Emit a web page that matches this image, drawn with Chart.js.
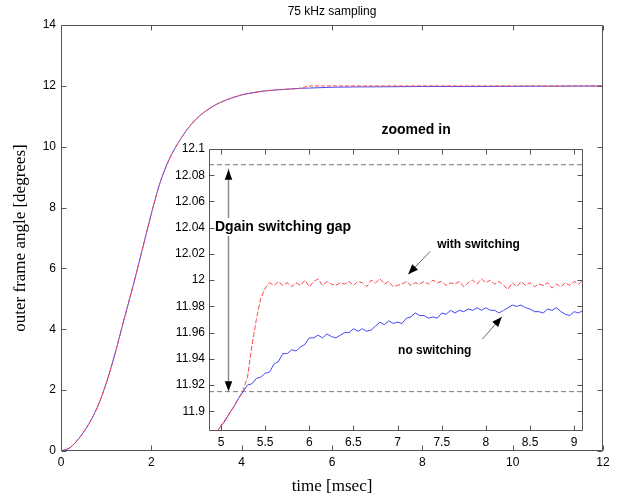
<!DOCTYPE html>
<html>
<head>
<meta charset="utf-8">
<script src="https://cdn.jsdelivr.net/npm/chart.js@4.4.0/dist/chart.umd.min.js"></script>
<style>
  html, body { margin: 0; padding: 0; background: #fff; }
  #wrap { position: relative; width: 618px; height: 499px; }
  #mainChart { position: absolute; left: 0; top: 0; }
  #zoomChart { position: absolute; left: 150px; top: 110px; }
</style>
</head>
<body>
<div id="wrap">
  <canvas id="mainChart" width="618" height="499"></canvas>
  <canvas id="zoomChart" width="450" height="350"></canvas>
</div>
<script>
// main plot data (msec, degrees)
const mainTime = [0, 0.2, 0.4, 0.6, 0.8, 1.0, 1.2, 1.4, 1.6, 1.8, 2.0, 2.1, 2.2, 2.3, 2.4, 2.6, 2.8, 3.0, 3.3, 3.6, 4.0, 4.5, 5.0, 5.3, 5.5, 6, 7, 8, 9, 10, 11, 12];
const mainRed = [0, 0.11, 0.42, 0.85, 1.42, 2.22, 3.22, 4.35, 5.45, 6.62, 7.8, 8.35, 8.85, 9.25, 9.6, 10.14, 10.58, 10.92, 11.27, 11.5, 11.7, 11.83, 11.89, 11.92, 11.995, 11.997, 11.997, 11.998, 11.998, 11.998, 11.999, 12.0];
const mainBlue = [0, 0.11, 0.42, 0.85, 1.42, 2.22, 3.22, 4.35, 5.45, 6.62, 7.8, 8.35, 8.85, 9.25, 9.6, 10.14, 10.58, 10.92, 11.27, 11.5, 11.7, 11.83, 11.89, 11.92, 11.928, 11.955, 11.968, 11.978, 11.976, 11.985, 11.99, 11.995];
const mainXTicks = [0, 2, 4, 6, 8, 10, 12];
const mainYTicks = [0, 2, 4, 6, 8, 10, 12, 14];

// zoomed in data
const zoomTime = [4.90, 4.95, 5.00, 5.05, 5.10, 5.15, 5.20, 5.25, 5.30, 5.35, 5.40, 5.45, 5.50, 5.55, 5.60, 5.65, 5.70, 5.75, 5.80, 5.85,
  5.90, 5.95, 6.00, 6.05, 6.10, 6.15, 6.20, 6.25, 6.30, 6.35, 6.40, 6.45, 6.50, 6.55, 6.60, 6.65, 6.70, 6.75, 6.80, 6.85,
  6.90, 6.95, 7.00, 7.05, 7.10, 7.15, 7.20, 7.25, 7.30, 7.35, 7.40, 7.45, 7.50, 7.55, 7.60, 7.65, 7.70, 7.75, 7.80, 7.85,
  7.90, 7.95, 8.00, 8.05, 8.10, 8.15, 8.20, 8.25, 8.30, 8.35, 8.40, 8.45, 8.50, 8.55, 8.60, 8.65, 8.70, 8.75, 8.80, 8.85,
  8.90, 8.95, 9.00, 9.05, 9.10];
const zoomRed = [11.879, 11.884, 11.889, 11.894, 11.899, 11.904, 11.910, 11.916, 11.926, 11.950, 11.970, 11.986, 11.994, 11.998, 11.996, 11.999, 11.996, 11.998, 11.995, 11.998,
  11.996, 12.000, 11.995, 11.999, 12.001, 11.996, 11.999, 11.997, 11.996, 11.998, 11.997, 11.999, 11.996, 11.999, 11.998, 11.995, 12.000, 11.998, 12.001, 11.997,
  11.999, 11.995, 11.996, 11.997, 11.999, 11.996, 11.998, 11.997, 11.999, 11.997, 12.000, 11.998, 11.999, 11.996, 11.998, 11.997, 11.999, 11.995, 11.998, 12.000,
  11.997, 12.001, 11.998, 12.000, 11.997, 11.999, 11.996, 11.993, 11.998, 11.995, 11.999, 11.996, 11.998, 11.995, 11.997, 11.996, 11.998, 11.994, 11.997, 11.995,
  11.998, 11.996, 11.999, 11.997, 12.000];
const zoomBlue = [11.879, 11.884, 11.889, 11.893, 11.899, 11.904, 11.910, 11.915, 11.920, 11.921, 11.925, 11.926, 11.929, 11.930, 11.936, 11.938, 11.944, 11.944, 11.947, 11.946,
  11.949, 11.951, 11.956, 11.956, 11.958, 11.956, 11.959, 11.957, 11.956, 11.958, 11.960, 11.960, 11.963, 11.961, 11.963, 11.961, 11.962, 11.965, 11.968, 11.966,
  11.969, 11.967, 11.968, 11.967, 11.971, 11.972, 11.975, 11.973, 11.973, 11.971, 11.972, 11.971, 11.975, 11.974, 11.977, 11.975, 11.977, 11.976, 11.978, 11.977,
  11.979, 11.977, 11.979, 11.977, 11.977, 11.975, 11.977, 11.979, 11.981, 11.980, 11.981, 11.979, 11.978, 11.976, 11.976, 11.975, 11.978, 11.977, 11.979, 11.976,
  11.974, 11.973, 11.976, 11.975, 11.977];
const zoomXTicks = [5, 5.5, 6, 6.5, 7, 7.5, 8, 8.5, 9];
const zoomYTicks = [11.9, 11.92, 11.94, 11.96, 11.98, 12, 12.02, 12.04, 12.06, 12.08, 12.1];
const zoomXRange = [4.864, 9.1];
const zoomYRange = [11.885, 12.1];
const gapTop = 12.088;
const gapBottom = 11.915;

const RED = "rgb(255, 70, 70)";
const BLUE = "rgb(70, 70, 255)";
const AXIS = "#555";
const SANS = "'Liberation Sans', Arial, sans-serif";
const SERIF = "'Liberation Serif', 'Times New Roman', serif";

const pairs = (xs, ys) => xs.map((x, i) => ({ x: x, y: ys[i] }));
const short = v => String(Number(v.toFixed(2)));

// box round the plot with inward ticks on all four sides
const framePlugin = {
  id: "frame",
  beforeDraw(chart, args, opts) {
    if (!opts.fill) return;
    const { ctx, chartArea: a } = chart;
    ctx.save();
    ctx.fillStyle = "#fff";
    ctx.fillRect(a.left, a.top, a.width, a.height);
    ctx.restore();
  },
  afterDraw(chart) {
    const { ctx, chartArea: a, scales } = chart;
    const l = Math.round(a.left) + 0.5, r = Math.round(a.right) - 0.5;
    const t = Math.round(a.top) + 0.5, b = Math.round(a.bottom) - 0.5;
    ctx.save();
    ctx.strokeStyle = AXIS;
    ctx.lineWidth = 1;
    ctx.beginPath();
    ctx.rect(l, t, r - l, b - t);
    scales.x.ticks.forEach(tk => {
      const p = Math.round(scales.x.getPixelForValue(tk.value)) + 0.5;
      ctx.moveTo(p, b); ctx.lineTo(p, b - 5);
      ctx.moveTo(p, t); ctx.lineTo(p, t + 5);
    });
    scales.y.ticks.forEach(tk => {
      const p = Math.round(scales.y.getPixelForValue(tk.value)) + 0.5;
      ctx.moveTo(l, p); ctx.lineTo(l + 5, p);
      ctx.moveTo(r, p); ctx.lineTo(r - 5, p);
    });
    ctx.stroke();
    ctx.restore();
  }
};

// title and axis labels of the big plot
const mainText = {
  id: "mainText",
  afterDraw(chart) {
    const { ctx, chartArea: a } = chart;
    ctx.save();
    ctx.fillStyle = "#000";
    ctx.textAlign = "center";
    ctx.textBaseline = "middle";
    ctx.font = "12px " + SANS;
    ctx.fillText("75 kHz sampling", (a.left + a.right) / 2, 12);
    ctx.font = "17px " + SERIF;
    ctx.fillText("time [msec]", (a.left + a.right) / 2, 487);
    ctx.translate(21, (a.top + a.bottom) / 2);
    ctx.rotate(-Math.PI / 2);
    ctx.fillText("outer frame angle [degrees]", 0, 0);
    ctx.restore();
  }
};

function arrowHead(ctx, x0, y0, x1, y1, len, half) {
  const ang = Math.atan2(y1 - y0, x1 - x0);
  const c = Math.cos(ang), s = Math.sin(ang);
  ctx.beginPath();
  ctx.moveTo(x1, y1);
  ctx.lineTo(x1 - len * c + half * s, y1 - len * s - half * c);
  ctx.lineTo(x1 - len * c - half * s, y1 - len * s + half * c);
  ctx.closePath();
  ctx.fill();
}

function arrow(ctx, x0, y0, x1, y1) {
  ctx.beginPath();
  ctx.moveTo(x0, y0);
  ctx.lineTo(x1, y1);
  ctx.stroke();
  arrowHead(ctx, x0, y0, x1, y1, 10, 4);
}

// notes inside the zoomed plot
const zoomText = {
  id: "zoomText",
  afterDatasetsDraw(chart) {
    const { ctx, chartArea: a, scales: { x, y } } = chart;
    const px = v => x.getPixelForValue(v), py = v => y.getPixelForValue(v);
    ctx.save();
    ctx.fillStyle = "#000";

    // gap arrow
    const gx = Math.round(px(5.076)) + 0.5;
    ctx.strokeStyle = "#8c8c8c";
    ctx.lineWidth = 1.5;
    ctx.beginPath();
    ctx.moveTo(gx, py(gapTop - 0.003));
    ctx.lineTo(gx, py(gapBottom + 0.003));
    ctx.stroke();
    arrowHead(ctx, gx, py(12.0), gx, py(12.0842), 10, 3.8);
    arrowHead(ctx, gx, py(12.0), gx, py(11.9153), 10, 3.8);

    ctx.font = "bold 14px " + SANS;
    ctx.textBaseline = "middle";
    ctx.textAlign = "left";
    const label = "Dgain switching gap";
    const tx = px(4.932), ty = py(12.0404);
    ctx.fillStyle = "#fff";
    ctx.fillRect(tx - 1, ty - 9, ctx.measureText(label).width + 2, 18);
    ctx.fillStyle = "#000";
    ctx.fillText(label, tx, ty);

    ctx.font = "bold 12px " + SANS;
    ctx.fillText("with switching", px(7.448), py(12.0267));
    ctx.fillText("no switching", px(7.006), py(11.9464));

    ctx.strokeStyle = "#444";
    ctx.lineWidth = 0.8;
    arrow(ctx, px(7.37), py(12.022), px(7.12), py(12.0045));
    arrow(ctx, px(7.96), py(11.955), px(8.18), py(11.972));

    ctx.font = "bold 14px " + SANS;
    ctx.textAlign = "center";
    ctx.fillText("zoomed in", px(7.21), a.top - 19);
    ctx.restore();
  }
};

const mainChart = new Chart(document.getElementById("mainChart"), {
  type: "line",
  data: {
    datasets: [
      {
        label: "with switching",
        data: pairs(mainTime, mainRed),
        borderColor: RED,
        borderWidth: 1,
        borderDash: [4, 2],
        pointRadius: 0,
        cubicInterpolationMode: "monotone",
      },
      {
        label: "no switching",
        data: pairs(mainTime, mainBlue),
        borderColor: BLUE,
        borderWidth: 1,
        pointRadius: 0,
        cubicInterpolationMode: "monotone",
      },
    ],
  },
  options: {
    responsive: false,
    animation: false,
    layout: { padding: { top: 25, right: 15, left: 0, bottom: 0 } },
    plugins: { legend: { display: false }, tooltip: { enabled: false }, frame: { fill: false } },
    scales: {
      x: {
        type: "linear",
        min: 0,
        max: 12,
        grid: { display: false, drawTicks: false },
        border: { display: false },
        ticks: { padding: 4, color: "#000", font: { family: SANS, size: 12 } },
        afterBuildTicks: s => { s.ticks = mainXTicks.map(v => ({ value: v })); },
        afterFit: s => { s.height = 48; },
      },
      y: {
        type: "linear",
        min: 0,
        max: 14,
        grid: { display: false, drawTicks: false },
        border: { display: false },
        ticks: { padding: 5, color: "#000", font: { family: SANS, size: 12 } },
        afterBuildTicks: s => { s.ticks = mainYTicks.map(v => ({ value: v })); },
        afterFit: s => { s.width = 61; },
      },
    },
  },
  plugins: [framePlugin, mainText],
});

const zoomChart = new Chart(document.getElementById("zoomChart"), {
  type: "line",
  data: {
    datasets: [
      {
        label: "with switching",
        data: pairs(zoomTime, zoomRed),
        borderColor: RED,
        borderWidth: 1,
        borderDash: [5, 2],
        pointRadius: 0,
      },
      {
        label: "no switching",
        data: pairs(zoomTime, zoomBlue),
        borderColor: BLUE,
        borderWidth: 1,
        pointRadius: 0,
      },
      {
        label: "gap top",
        data: pairs(zoomXRange, [gapTop, gapTop]),
        borderColor: "#777",
        borderWidth: 1,
        borderDash: [5, 3],
        pointRadius: 0,
      },
      {
        label: "gap bottom",
        data: pairs(zoomXRange, [gapBottom, gapBottom]),
        borderColor: "#777",
        borderWidth: 1,
        borderDash: [5, 3],
        pointRadius: 0,
      },
    ],
  },
  options: {
    responsive: false,
    animation: false,
    layout: { padding: { top: 39, right: 17, left: 0, bottom: 0 } },
    plugins: { legend: { display: false }, tooltip: { enabled: false }, frame: { fill: true } },
    scales: {
      x: {
        type: "linear",
        min: zoomXRange[0],
        max: zoomXRange[1],
        grid: { display: false, drawTicks: false },
        border: { display: false },
        ticks: { padding: 4, color: "#000", font: { family: SANS, size: 12 }, callback: short },
        afterBuildTicks: s => { s.ticks = zoomXTicks.map(v => ({ value: v })); },
        afterFit: s => { s.height = 29; },
      },
      y: {
        type: "linear",
        min: zoomYRange[0],
        max: zoomYRange[1],
        grid: { display: false, drawTicks: false },
        border: { display: false },
        ticks: { padding: 4, color: "#000", font: { family: SANS, size: 12 }, callback: short },
        afterBuildTicks: s => { s.ticks = zoomYTicks.map(v => ({ value: v })); },
        afterFit: s => { s.width = 59; },
      },
    },
  },
  plugins: [framePlugin, zoomText],
});
</script>
</body>
</html>
